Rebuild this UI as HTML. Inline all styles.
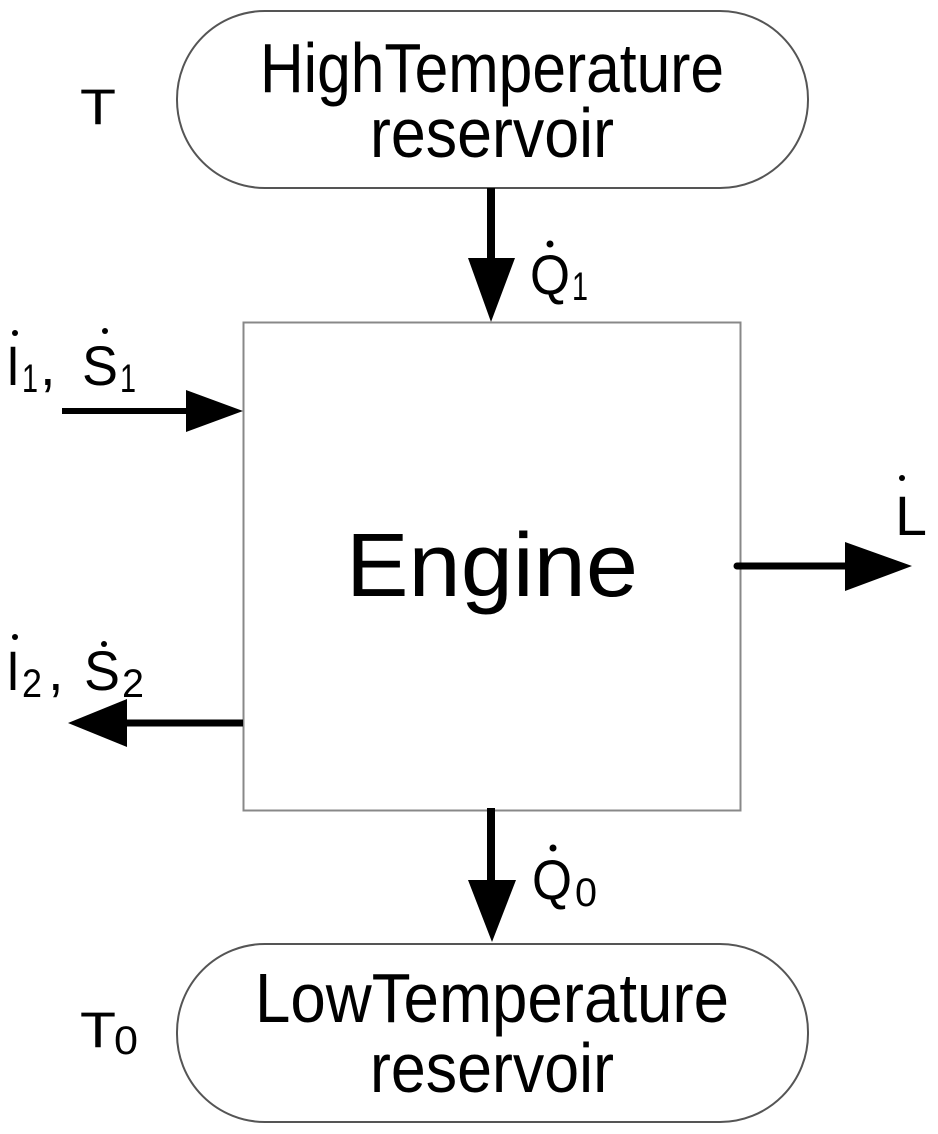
<!DOCTYPE html>
<html><head><meta charset="utf-8"><style>html,body{margin:0;padding:0;background:#fff}svg{display:block}</style></head>
<body>
<svg width="938" height="1134" viewBox="0 0 938 1134" xmlns="http://www.w3.org/2000/svg" font-family="Liberation Sans, Arial, sans-serif" fill="#000">
<rect x="177" y="11" width="631" height="177" rx="88" ry="88" fill="#fff" stroke="#555" stroke-width="2"/>
<text x="492" y="92" font-size="70" text-anchor="middle" textLength="464" lengthAdjust="spacingAndGlyphs">HighTemperature</text>
<text x="492" y="157" font-size="70" text-anchor="middle" textLength="244" lengthAdjust="spacingAndGlyphs">reservoir</text>
<text x="80" y="124" font-size="50" textLength="36" lengthAdjust="spacingAndGlyphs">T</text>
<line x1="491" y1="188" x2="491" y2="262" stroke="#000" stroke-width="8"/>
<polygon points="468,258 515,258 491,322"/>
<text x="530" y="294" font-size="56" textLength="40" lengthAdjust="spacingAndGlyphs">Q</text>
<circle cx="550" cy="244" r="3.5"/>
<text x="572" y="300" font-size="40" textLength="16" lengthAdjust="spacingAndGlyphs">1</text>
<rect x="243.5" y="322.5" width="497" height="488" fill="#fff" stroke="#888" stroke-width="2"/>
<text x="492" y="596" font-size="90" text-anchor="middle" textLength="292" lengthAdjust="spacingAndGlyphs">Engine</text>
<text x="6" y="385" font-size="56" textLength="14" lengthAdjust="spacingAndGlyphs">I</text>
<circle cx="15" cy="333" r="3"/>
<text x="22" y="392" font-size="40" textLength="16" lengthAdjust="spacingAndGlyphs">1</text>
<text x="40" y="385" font-size="56">,</text>
<text x="82" y="385" font-size="56" textLength="36" lengthAdjust="spacingAndGlyphs">S</text>
<circle cx="105" cy="331" r="3"/>
<text x="120" y="392" font-size="40" textLength="16" lengthAdjust="spacingAndGlyphs">1</text>
<line x1="62" y1="411" x2="190" y2="411" stroke="#000" stroke-width="6"/>
<polygon points="186,390 186,432 243,411"/>
<text x="895" y="535" font-size="56" textLength="32" lengthAdjust="spacingAndGlyphs">L</text>
<circle cx="902" cy="478" r="3"/>
<line x1="737" y1="566" x2="850" y2="566" stroke="#000" stroke-width="7" stroke-linecap="round"/>
<polygon points="845,542 845,591 912,566"/>
<text x="6" y="690" font-size="56" textLength="14" lengthAdjust="spacingAndGlyphs">I</text>
<circle cx="15" cy="637" r="3"/>
<text x="22" y="697" font-size="40" textLength="20" lengthAdjust="spacingAndGlyphs">2</text>
<text x="48" y="690" font-size="56">,</text>
<text x="84" y="690" font-size="56" textLength="36" lengthAdjust="spacingAndGlyphs">S</text>
<circle cx="104" cy="644" r="3"/>
<text x="122" y="697" font-size="40" textLength="22" lengthAdjust="spacingAndGlyphs">2</text>
<line x1="243" y1="723" x2="120" y2="723" stroke="#000" stroke-width="7"/>
<polygon points="127,699 127,747 68,723"/>
<line x1="491" y1="808" x2="491" y2="885" stroke="#000" stroke-width="8"/>
<polygon points="468,880 516,880 492,942"/>
<text x="532" y="899" font-size="56" textLength="40" lengthAdjust="spacingAndGlyphs">Q</text>
<circle cx="553" cy="848" r="3.5"/>
<text x="575" y="906" font-size="40" textLength="22" lengthAdjust="spacingAndGlyphs">0</text>
<rect x="177" y="944" width="631" height="178" rx="88" ry="88" fill="#fff" stroke="#555" stroke-width="2"/>
<text x="492" y="1022" font-size="70" text-anchor="middle" textLength="474" lengthAdjust="spacingAndGlyphs">LowTemperature</text>
<text x="492" y="1092" font-size="70" text-anchor="middle" textLength="244" lengthAdjust="spacingAndGlyphs">reservoir</text>
<text x="80" y="1047" font-size="50" textLength="36" lengthAdjust="spacingAndGlyphs">T</text>
<text x="114" y="1054" font-size="40" textLength="24" lengthAdjust="spacingAndGlyphs">0</text>
</svg>
</body></html>
